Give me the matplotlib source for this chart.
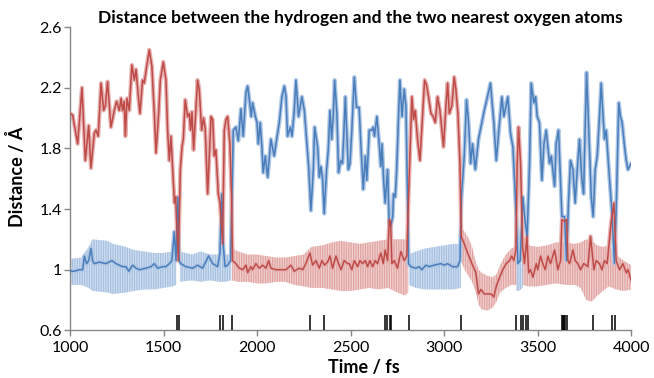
import numpy as np
import matplotlib
matplotlib.use('Agg')
import matplotlib.pyplot as plt

plt.rcParams['font.family'] = ['Lato', 'DejaVu Sans']
plt.rcParams['hatch.linewidth'] = 0.9

# H...O(1) distance, smoothed (blue)
blue_t = [1000,1023,1050,1068,1077,1089,1100,1112,1121,1130,
          1157,1192,1224,1246,1281,1299,1314,1335,1353,1371,
          1406,1433,1451,1469,1495,1513,1531,1545,1558,1567,
          1577,1584,1593,1620,1656,1682,1709,1741,1763,1789,
          1802,1811,1820,1829,1843,1859,1866,1873,1887,1900,
          1914,1926,1941,1950,1962,1969,1976,1991,2000,2007,
          2017,2026,2033,2044,2057,2074,2092,2105,2119,2133,
          2146,2155,2163,2178,2187,2199,2208,2222,2240,2253,
          2261,2276,2288,2301,2308,2324,2333,2342,2351,2359,
          2372,2381,2390,2399,2408,2415,2427,2436,2447,2457,
          2465,2472,2488,2497,2507,2520,2532,2546,2555,2568,
          2579,2587,2600,2614,2621,2628,2641,2653,2662,2668,
          2677,2685,2698,2707,2714,2725,2730,2739,2746,2757,
          2764,2775,2787,2796,2805,2810,2823,2849,2867,2881,
          2903,2921,2947,2983,3001,3019,3045,3072,3085,3093,
          3108,3120,3131,3142,3152,3167,3184,3202,3215,3232,
          3248,3266,3279,3293,3309,3320,3341,3355,3368,3377,
          3386,3395,3407,3421,3434,3444,3457,3466,3480,3489,
          3498,3510,3523,3534,3546,3564,3573,3591,3599,3612,
          3630,3644,3655,3665,3676,3689,3701,3712,3724,3737,
          3746,3754,3762,3772,3787,3797,3808,3819,3831,3840,
          3849,3858,3867,3881,3897,3911,3922,3934,3943,3952,
          3965,3974,3983,4000]
blue_v = [0.99,0.99,1.00,1.00,1.09,1.04,1.06,1.14,1.06,1.04,
          1.05,1.04,1.06,1.04,1.02,1.02,0.99,1.03,1.01,1.00,
          1.01,1.02,1.04,1.01,1.02,1.02,1.04,1.06,1.25,1.06,
          1.48,1.06,1.04,1.02,1.01,1.03,1.01,1.09,1.04,1.02,
          1.11,1.50,1.15,1.02,1.03,1.06,1.48,1.92,1.94,1.85,
          2.06,1.88,2.17,2.21,2.09,2.01,2.10,2.01,1.97,1.83,
          1.97,1.81,1.64,1.75,1.61,1.86,1.75,1.86,1.97,2.14,
          2.21,2.14,1.88,1.94,1.88,2.05,2.25,2.01,2.14,2.05,
          1.92,1.68,1.39,1.66,1.94,1.81,1.61,1.68,1.59,1.37,
          1.66,1.79,2.05,1.86,2.03,2.25,2.03,1.64,1.72,1.70,
          1.92,2.14,1.66,1.70,1.92,2.27,2.07,2.07,1.83,1.53,
          1.75,1.59,1.92,1.92,1.94,1.88,2.01,1.83,1.68,1.83,
          1.59,1.44,1.66,1.30,1.28,1.35,1.50,1.48,1.64,2.03,
          2.25,2.01,2.19,2.08,1.48,1.04,1.02,1.01,1.02,1.00,
          1.03,1.02,1.03,1.04,1.03,1.04,1.02,1.02,1.06,1.48,
          1.75,2.12,1.97,1.70,1.83,1.66,1.86,1.97,2.05,2.14,
          2.23,1.97,1.72,1.92,2.14,2.01,2.14,1.90,1.81,1.59,
          1.35,1.04,1.06,1.48,1.31,1.22,1.70,2.23,2.10,2.14,
          2.01,1.97,1.59,1.83,1.92,1.70,1.75,1.55,1.83,1.92,
          1.35,1.35,1.06,1.44,1.72,1.66,1.44,1.66,1.86,1.59,
          1.50,1.92,2.30,1.97,1.48,1.35,1.66,1.75,2.01,2.23,
          2.03,1.86,1.92,1.66,1.39,1.04,1.48,2.10,2.01,1.97,
          1.81,1.72,1.66,1.70]

# H...O(2) distance, smoothed (red)
red_t = [1000,1014,1041,1064,1082,1100,1112,1130,1139,1151,
         1166,1180,1189,1201,1219,1237,1249,1264,1273,1281,
         1290,1296,1305,1317,1331,1344,1353,1367,1374,1388,
         1397,1410,1424,1438,1451,1460,1474,1483,1499,1513,
         1522,1531,1540,1552,1559,1565,1579,1590,1599,1606,
         1616,1629,1638,1645,1652,1661,1682,1691,1704,1714,
         1723,1736,1754,1763,1771,1780,1793,1802,1816,1825,
         1834,1843,1855,1864,1869,1887,1905,1923,1941,1950,
         1967,1976,1994,2012,2030,2048,2062,2074,2101,2137,
         2155,2181,2199,2226,2244,2261,2283,2297,2315,2333,
         2347,2361,2377,2390,2404,2422,2436,2449,2466,2484,
         2493,2507,2520,2538,2550,2564,2579,2591,2603,2618,
         2632,2644,2662,2675,2685,2698,2707,2714,2721,2734,
         2751,2769,2787,2801,2810,2828,2837,2846,2858,2871,
         2885,2896,2906,2917,2930,2942,2953,2965,2978,2997,
         3010,3019,3028,3042,3054,3063,3074,3085,3092,3108,
         3126,3149,3170,3184,3197,3215,3232,3252,3266,3279,
         3297,3314,3323,3332,3350,3362,3373,3384,3391,3398,
         3409,3420,3430,3443,3452,3462,3475,3493,3501,3516,
         3528,3541,3555,3569,3591,3608,3623,3630,3644,3655,
         3662,3671,3689,3701,3715,3730,3747,3769,3783,3801,
         3813,3831,3844,3858,3872,3893,3908,3920,3938,3956,
         3974,3983,4000]
red_v = [2.03,2.02,1.83,2.20,1.72,1.95,1.67,1.90,1.92,1.88,
         2.23,2.05,2.08,2.24,1.94,2.05,2.11,2.05,2.13,2.05,
         2.11,1.88,2.13,2.05,2.35,2.25,2.32,2.12,2.03,2.25,
         2.23,2.34,2.45,2.34,2.03,1.77,2.03,2.25,2.37,2.25,
         1.92,1.72,1.88,1.59,1.44,1.48,1.06,1.66,1.81,1.86,
         2.12,2.01,2.03,1.92,2.04,1.79,2.25,2.19,1.92,2.00,
         1.93,1.50,2.01,1.99,1.75,1.79,1.50,1.44,1.17,1.92,
         1.99,2.01,1.83,1.48,1.06,1.04,1.01,1.00,1.03,0.98,
         1.02,1.00,1.04,1.01,1.03,1.01,1.06,1.01,1.00,1.00,
         1.00,1.03,0.99,1.01,1.00,1.04,1.11,1.03,1.06,1.01,
         1.06,1.03,1.05,1.09,1.01,1.09,1.04,1.00,1.06,1.04,
         1.04,1.00,1.06,1.02,1.06,1.04,1.06,1.02,1.06,1.02,
         1.06,1.04,1.11,1.04,1.13,1.06,1.33,1.32,1.04,1.06,
         1.01,1.12,1.06,1.09,1.48,2.14,1.99,2.05,1.86,1.72,
         2.01,2.25,2.22,2.14,2.03,2.01,1.97,2.14,2.05,1.81,
         2.08,2.23,2.03,2.08,2.27,2.19,2.03,1.70,1.22,1.17,
         1.11,1.04,0.98,0.84,0.87,0.84,0.84,0.84,0.82,0.89,
         0.95,1.00,1.02,1.04,1.06,1.09,1.06,1.13,1.70,1.94,
         1.70,1.15,1.04,1.22,0.98,1.00,0.95,1.04,1.00,1.09,
         1.04,1.00,1.09,1.04,1.13,1.00,1.06,1.33,1.32,1.33,
         1.06,1.04,1.13,1.06,1.04,1.00,1.04,1.02,1.22,1.00,
         1.06,1.04,1.00,1.06,1.04,1.31,1.44,1.06,1.00,1.04,
         0.98,1.00,0.93]

# spread of the raw (unsmoothed) values while bonded
blue_band = [
    ([1000,1060,1100,1120,1200,1230,1300,1340,1400,1450,1500,1550,1568],
     [0.90,0.90,0.88,0.86,0.85,0.84,0.85,0.86,0.87,0.87,0.88,0.89,0.90],
     [1.07,1.08,1.15,1.20,1.19,1.17,1.15,1.13,1.12,1.11,1.11,1.12,1.14]),
    ([1588,1650,1700,1750,1800,1830,1862],
     [0.92,0.93,0.92,0.93,0.92,0.92,0.93],
     [1.12,1.10,1.12,1.10,1.10,1.10,1.10]),
    ([2812,2850,2900,2950,3000,3050,3090],
     [0.90,0.88,0.87,0.87,0.87,0.87,0.88],
     [1.10,1.12,1.14,1.15,1.16,1.17,1.17]),
    ([3386,3400,3420],
     [0.86,0.86,0.88],
     [1.15,1.15,1.12]),
]
red_band = [
    ([1866,1900,1950,2000,2050,2100,2150,2200,2250,2290,2350,2400,2450,
      2500,2550,2600,2650,2700,2750,2790,2808],
     [0.93,0.92,0.92,0.91,0.91,0.92,0.92,0.90,0.89,0.88,0.88,0.87,0.86,
      0.86,0.87,0.88,0.87,0.88,0.85,0.83,0.85],
     [1.14,1.12,1.10,1.10,1.09,1.08,1.08,1.09,1.10,1.15,1.16,1.18,1.19,
      1.18,1.17,1.18,1.19,1.20,1.20,1.20,1.18]),
    ([3092,3110,3130,3150,3170,3185,3200,3230,3260,3280,3300,3330,3360,
      3380,3420,3450,3500,3550,3600,3650,3700,3730,3760,3790,3820,3850,
      3880,3920,3960,4000],
     [1.05,1.00,0.96,0.92,0.85,0.77,0.74,0.73,0.75,0.79,0.85,0.88,0.90,
      0.90,0.90,0.89,0.89,0.90,0.91,0.90,0.90,0.88,0.80,0.79,0.83,0.86,
      0.89,0.87,0.86,0.87],
     [1.28,1.25,1.21,1.15,1.05,1.00,0.98,0.96,0.95,0.97,1.03,1.10,1.14,
      1.15,1.13,1.16,1.15,1.16,1.18,1.18,1.17,1.18,1.20,1.19,1.16,1.15,
      1.16,1.10,1.06,1.03]),
]

# proton transfer events
events = [1574, 1584, 1802, 1816, 1864, 2285, 2358, 2684, 2693, 2710, 2717,
          2810, 3093, 3383, 3412, 3424, 3437, 3448, 3629, 3635, 3641, 3648,
          3655, 3798, 3897, 3915]

blue = '#4a7ebb'
red = '#be4b48'

fig = plt.figure(figsize=(6.54, 3.78), dpi=100)
ax = fig.add_axes([0.107, 0.126, 0.858, 0.8025])

for t, lo, hi in red_band:
    ax.fill_between(t, lo, hi, facecolor='#f1d2d1', edgecolor='#e0a3a1',
                    hatch='|' * 7, lw=0, zorder=1)
for t, lo, hi in blue_band:
    ax.fill_between(t, lo, hi, facecolor='#d2e0f1', edgecolor='#a5bfe0',
                    hatch='|' * 7, lw=0, zorder=1)

ax.plot(blue_t, blue_v, color='#adc6e5', lw=3.0, zorder=2, solid_joinstyle='round')
ax.plot(red_t, red_v, color='#e6b1b0', lw=3.0, zorder=2, solid_joinstyle='round')
ax.plot(blue_t, blue_v, color=blue, lw=1.1, zorder=3)
ax.plot(red_t, red_v, color=red, lw=1.1, zorder=4)

ax.vlines(events, 0.6, 0.70, color='black', lw=1.1, zorder=5)

ax.set_xlim(1000, 4000)
ax.set_ylim(0.6, 2.6)
ax.set_xticks([1000, 1500, 2000, 2500, 3000, 3500, 4000])
ax.set_yticks([0.6, 1.0, 1.4, 1.8, 2.2, 2.6])
ax.set_yticklabels(['0.6', '1', '1.4', '1.8', '2.2', '2.6'])
for s in ['top', 'right']:
    ax.spines[s].set_visible(False)
for s in ['left', 'bottom']:
    ax.spines[s].set_color('#868686')
    ax.spines[s].set_linewidth(1.0)
ax.tick_params(direction='out', length=4, width=1, color='#868686',
               labelsize=11.5, labelcolor='black', pad=2)
ax.tick_params(axis='x', pad=4)

fig.text(0.551, 1 - 18 / 378, 'Distance between the hydrogen and the two nearest oxygen atoms',
         ha='center', va='center', fontsize=12.6, fontweight='bold')
fig.text(364 / 654, 1 - 368 / 378, 'Time / fs', ha='center', va='center',
         fontsize=13, fontweight='bold')
fig.text(17 / 654, 1 - 177 / 378, 'Distance / Å', ha='center', va='center',
         rotation=90, fontsize=13, fontweight='bold')

fig.savefig('out.png', dpi=100)
